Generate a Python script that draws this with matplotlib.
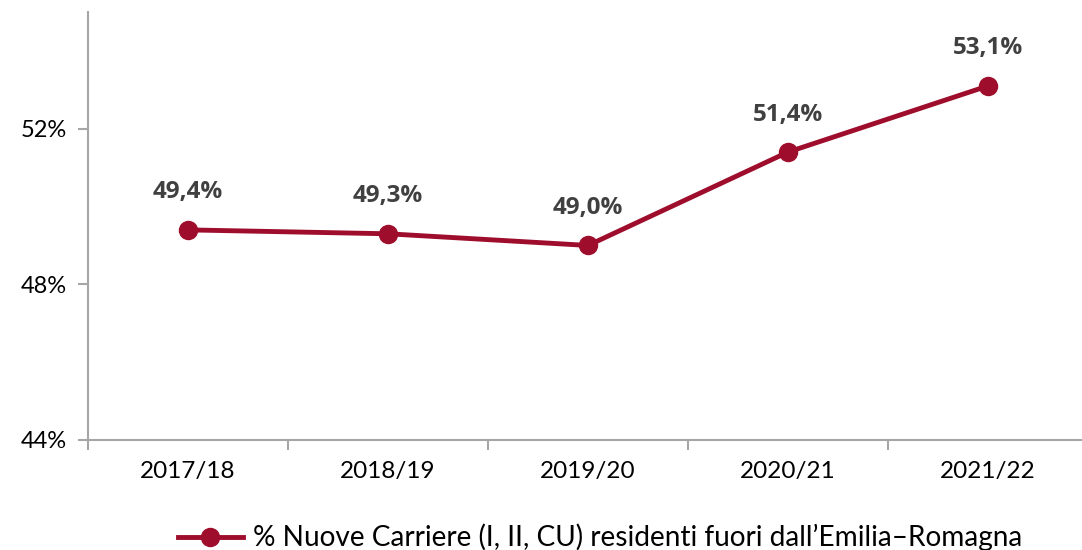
import matplotlib.pyplot as plt

# dati
anni = ['2017/18', '2018/19', '2019/20', '2020/21', '2021/22']
quota = [49.4, 49.3, 49.0, 51.4, 53.1]
etichette = ['49,4%', '49,3%', '49,0%', '51,4%', '53,1%']
yticks = [44, 48, 52]

plt.rcParams['font.family'] = ['Lato', 'DejaVu Sans']

rosso = '#9E0E2C'
grigio = '#A6A6A6'

fig = plt.figure(figsize=(10.82, 5.5), dpi=100)
ax = fig.add_axes([88 / 1082, 110 / 550, 1000 / 1082, 428 / 550])

x = list(range(len(anni)))
ax.plot(x, quota, color=rosso, lw=3.5, marker='o', ms=13,
        label='% Nuove Carriere (I, II, CU) residenti fuori dall\u2019Emilia\u2013Romagna')

for xi, yi, t in zip(x, quota, etichette):
    ax.annotate(t, (xi, yi), xytext=(0, 27), textcoords='offset points',
                ha='center', va='center', fontsize=17.5, fontweight='bold',
                family=['Open Sans', 'DejaVu Sans'], color='#404040')

ax.set_xlim(-0.5, len(anni) - 0.5)
ax.set_ylim(44, 55)
ax.set_yticks(yticks)
ax.set_yticklabels([f'{v}%' for v in yticks], fontsize=17)
ax.set_xticks(x)
ax.set_xticklabels(anni, fontsize=17.5)
ax.set_xticks([i - 0.5 for i in range(len(anni) + 1)], minor=True)
ax.tick_params(axis='x', which='major', length=0, pad=15)
ax.tick_params(axis='x', which='minor', length=7, color=grigio, width=1.5)
ax.tick_params(axis='y', length=7, color=grigio, width=1.5, pad=8)

for s in ['top', 'right']:
    ax.spines[s].set_visible(False)
for s in ['left', 'bottom']:
    ax.spines[s].set_color(grigio)
    ax.spines[s].set_linewidth(1.5)

ax.legend(loc='center', bbox_to_anchor=(0.512, -0.228), frameon=False,
          fontsize=20.2, handlelength=2.3, handletextpad=0.35)

fig.savefig('out.png', dpi=100)
